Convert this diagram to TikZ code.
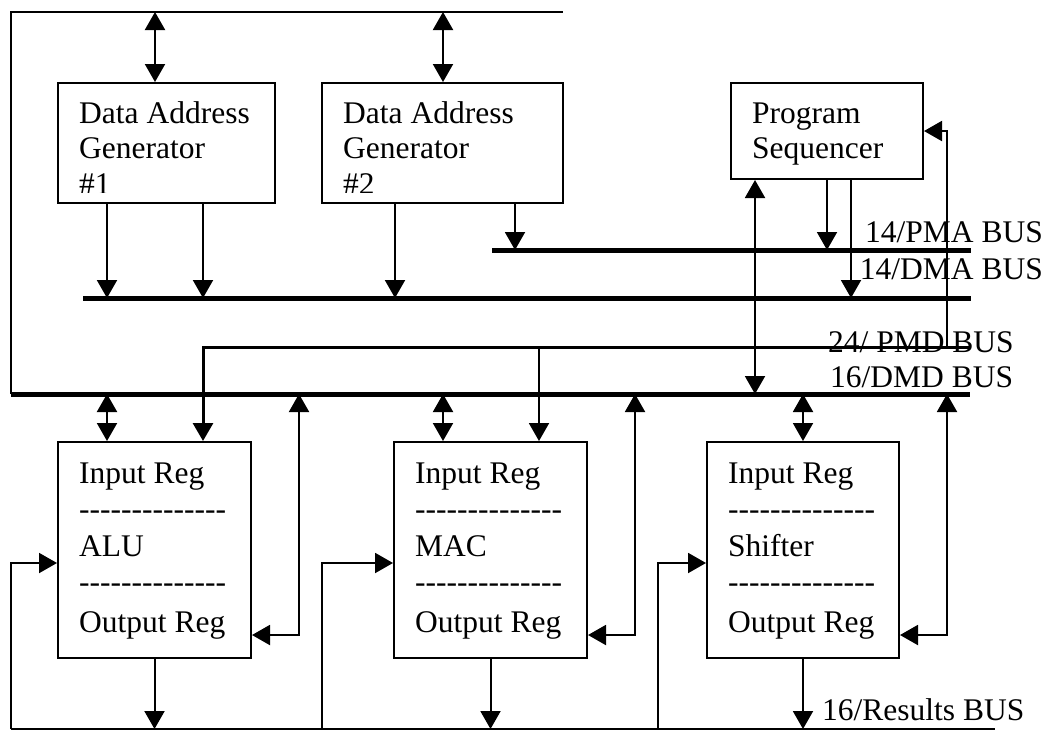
\documentclass[tikz,border=0pt]{standalone}
\usepackage{fontspec}
\newfontfamily\tnr{Liberation Serif}
\usetikzlibrary{arrows.meta}
\begin{document}
\begin{tikzpicture}[x=1pt,y=-1pt,
  thinl/.style={line width=2pt},
  box/.style={draw, line width=2pt, inner sep=0pt},
  bus/.style={line width=5pt},
  pmdline/.style={line width=3pt},
  arr/.style={line width=2pt, -{Triangle[length=18pt,width=20pt]}},
  darr/.style={line width=2pt, {Triangle[length=18pt,width=20pt]}-{Triangle[length=18pt,width=20pt]}},
  txt/.style={font=\tnr\fontsize{31.5}{36}\selectfont, inner sep=0pt, anchor=base west},
  lbl/.style={font=\tnr\fontsize{31.5}{36}\selectfont, inner sep=0pt}]
\useasboundingbox (0,0) rectangle (1048,731);

% boxes
\node[box, minimum width=217pt, minimum height=120pt] (dag1) at (166.5,143) {};
\node[box, minimum width=241pt, minimum height=120pt] (dag2) at (442.5,143) {};
\node[box, minimum width=192pt, minimum height=96pt] (ps) at (827,131) {};
\node[box, minimum width=193pt, minimum height=216pt] (alu) at (154.5,550) {};
\node[box, minimum width=193pt, minimum height=216pt] (mac) at (490.5,550) {};
\node[box, minimum width=192pt, minimum height=216pt] (shf) at (803,550) {};

% box texts
\node[txt] (d1a) at (79,123) {Data Address};
\node[txt] (d1b) at (79,158) {Generator};
\node[txt] (d2a) at (343,123) {Data Address};
\node[txt] (d2b) at (343,158) {Generator};
\begin{scope}
  \clip (58,165) rectangle (563,192.5);
  \node[txt] (d1c) at (79,194) {\#1};
  \node[txt] (d2c) at (343,194) {\#2};
\end{scope}
\node[txt] (p1) at (752,123) {Program};
\node[txt] (p2) at (752,158) {Sequencer};

\node[txt] (a1) at (79,483) {Input Reg};
\node[txt] (a2) at (79,519) {--------------};
\node[txt] (a3) at (79,556) {ALU};
\node[txt] (a4) at (79,592) {--------------};
\node[txt] (a5) at (79,632) {Output Reg};

\node[txt] (m1) at (415,483) {Input Reg};
\node[txt] (m2) at (415,519) {--------------};
\node[txt] (m3) at (415,556) {MAC};
\node[txt] (m4) at (415,592) {--------------};
\node[txt] (m5) at (415,632) {Output Reg};

\node[txt] (s1) at (728,483) {Input Reg};
\node[txt] (s2) at (728,519) {--------------};
\node[txt] (s3) at (728,556) {Shifter};
\node[txt] (s4) at (728,592) {--------------};
\node[txt] (s5) at (728,632) {Output Reg};

% bus coordinates
\coordinate (tl) at (11,12);
\coordinate (tr) at (563,12);
\coordinate (pmaL) at (492,250);
\coordinate (pmaR) at (971,250);
\coordinate (dmaL) at (83,298);
\coordinate (dmaR) at (971,298);
\coordinate (pmdL) at (203,347);
\coordinate (pmdR) at (970,347);
\coordinate (dmdL) at (11,394);
\coordinate (dmdR) at (970,394);
\coordinate (resL) at (11,729);
\coordinate (resR) at (995,729);

% buses
\draw[thinl] (dmdL) -- (tl) -- (tr);
\draw[bus] (pmaL) -- (pmaR);
\draw[bus] (dmaL) -- (dmaR);
\draw[bus] (dmdL) -- (dmdR);
\draw[line width=2.5pt] (resL) -- (resR);
\draw[pmdline, -{Triangle[length=18pt,width=20pt]}] (pmdR) -- (pmdL) -- (alu.north -| pmdL);
\draw[arr] (pmdL -| 539,0) -- (mac.north -| 539,0);

% DAG connections
\draw[darr] (tl -| 155,0) -- (dag1.north -| 155,0);
\draw[darr] (tl -| 443,0) -- (dag2.north -| 443,0);
\draw[arr] (dag1.south -| 107,0) -- (dmaL -| 107,0);
\draw[arr] (dag1.south -| 203,0) -- (dmaL -| 203,0);
\draw[arr] (dag2.south -| 395,0) -- (dmaL -| 395,0);
\draw[arr] (dag2.south -| 515,0) -- (pmaL -| 515,0);

% program sequencer connections
\draw[darr] (ps.south -| 755,0) -- (dmdL -| 755,0);
\draw[arr] (ps.south -| 827,0) -- (pmaL -| 827,0);
\draw[arr] (ps.south -| 851,0) -- (dmaL -| 851,0);
\draw[arr] (pmdR -| 947,0) -- (947,131) -- (ps.east);

% DMD to units
\draw[darr] (dmdL -| 107,0) -- (alu.north -| 107,0);
\draw[darr] (dmdL -| 443,0) -- (mac.north -| 443,0);
\draw[darr] (dmdL -| 803,0) -- (shf.north);
\draw[darr] (alu.east |- 0,635) -- (299,635) -- (dmdL -| 299,0);
\draw[darr] (mac.east |- 0,635) -- (635,635) -- (dmdL -| 635,0);
\draw[darr] (shf.east |- 0,635) -- (947,635) -- (dmdL -| 947,0);

% results
\draw[arr] (alu.south) -- (resL -| alu.south);
\draw[arr] (mac.south) -- (resL -| mac.south);
\draw[arr] (shf.south) -- (resL -| shf.south);
\draw[arr] (resL) -- (11,563) -- (alu.west |- 0,563);
\draw[arr] (resL -| 322,0) -- (322,563) -- (mac.west |- 0,563);
\draw[arr] (resL -| 658,0) -- (658,563) -- (shf.west |- 0,563);

% bus labels
\node[lbl, anchor=base east] (lpma) at (1043,242) {14/PMA BUS};
\node[lbl, anchor=base east] (ldma) at (1043,279) {14/DMA BUS};
\node[lbl, anchor=base west] (lpmd) at (828,352) {24/ PMD BUS};
\node[lbl, anchor=base west] (ldmd) at (830,387) {16/DMD BUS};
\node[lbl, anchor=base west] (lres) at (822,720) {16/Results BUS};
\end{tikzpicture}
\end{document}
